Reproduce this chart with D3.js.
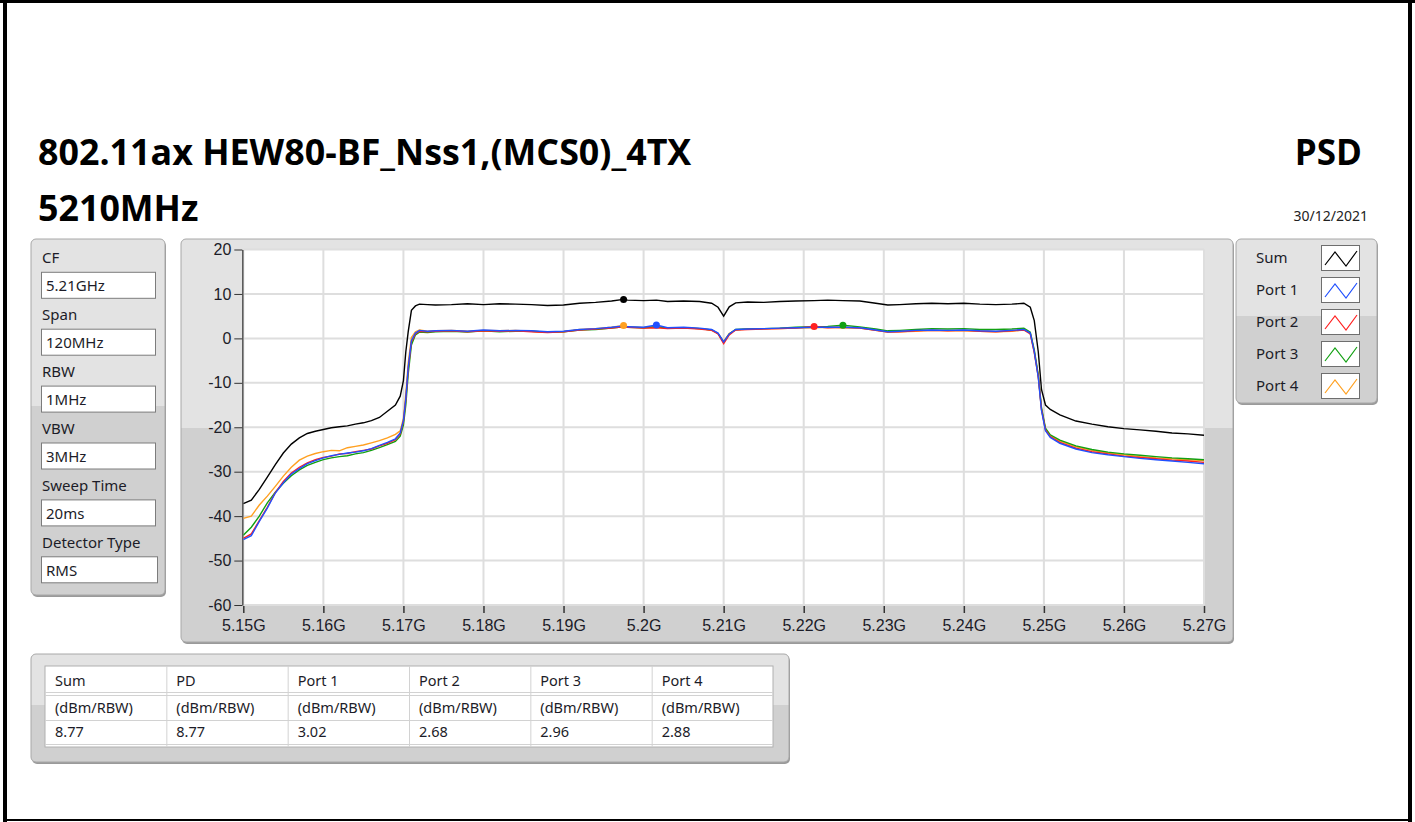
<!DOCTYPE html>
<html>
<head>
<meta charset="utf-8">
<script src="https://cdn.jsdelivr.net/npm/d3@7"></script>
<style>
body { margin: 0; background: #fff; }
svg { display: block; font-family: "Noto Sans", sans-serif; }
</style>
</head>
<body>
<div id="chart"></div>
<script>
// frequency points (MHz) shared by all traces
var freqMHz = [5150, 5151, 5152, 5153, 5154, 5155, 5156, 5157, 5158, 5159,
  5160, 5161, 5162, 5163, 5164, 5165, 5166, 5167, 5168, 5169,
  5169.6, 5170, 5170.3, 5170.6, 5171, 5171.5, 5172, 5173, 5174, 5176,
  5178, 5180, 5182, 5184, 5186, 5188, 5190, 5192, 5194, 5196,
  5197.5, 5198, 5200, 5201.6, 5203, 5205, 5207, 5208.5, 5209.3, 5210,
  5210.7, 5211.5, 5213, 5215, 5217, 5219, 5221.3, 5223, 5224.9, 5227,
  5229, 5230.5, 5232, 5234, 5236, 5238, 5240, 5242, 5244, 5246,
  5247.5, 5248.3, 5248.8, 5249.3, 5249.7, 5250.2, 5250.8, 5252, 5254, 5256,
  5258, 5260, 5262, 5264, 5266, 5268, 5270];

// PSD in dBm/RBW
var sumPSD = [-37.2, -36.4, -34.0, -31.2, -28.4, -25.8, -23.8, -22.4, -21.4, -20.9,
  -20.5, -20.1, -19.9, -19.7, -19.3, -19.0, -18.5, -17.8, -16.4, -15.0,
  -13.0, -9.5, -3.0, 1.5, 6.3, 7.3, 7.7, 7.6, 7.5, 7.6,
  7.8, 7.6, 7.8, 7.7, 7.6, 7.4, 7.5, 7.9, 8.1, 8.4,
  8.77, 8.6, 8.5, 8.6, 8.3, 8.4, 8.3, 7.9, 7.0, 5.0,
  7.1, 8.0, 8.2, 8.1, 8.3, 8.4, 8.5, 8.6, 8.5, 8.4,
  7.9, 7.5, 7.6, 7.8, 7.9, 7.8, 7.9, 7.7, 7.6, 7.7,
  7.9, 7.0, 4.0, -3.0, -11.5, -15.0, -16.0, -17.2, -18.6, -19.3,
  -19.9, -20.3, -20.6, -20.9, -21.3, -21.5, -21.8];

var port1PSD = [-45.3, -44.4, -41.2, -38.2, -34.8, -32.5, -30.5, -29.3, -28.2, -27.5,
  -26.9, -26.4, -26.1, -25.8, -25.6, -25.3, -24.8, -24.1, -23.4, -22.6,
  -21.3, -18.5, -13.5, -6.5, -0.5, 1.2, 1.8, 1.6, 1.7, 1.8,
  1.6, 1.9, 1.7, 1.8, 1.7, 1.5, 1.6, 2.0, 2.2, 2.5,
  2.8, 2.6, 2.5, 3.02, 2.4, 2.5, 2.3, 2.0, 1.2, -0.8,
  1.0, 2.0, 2.1, 2.2, 2.3, 2.4, 2.5, 2.5, 2.5, 2.4,
  1.9, 1.5, 1.6, 1.8, 1.9, 1.8, 1.9, 1.7, 1.6, 1.8,
  2.0, 1.2, -3.0, -8.8, -16.2, -20.8, -22.3, -23.6, -24.9, -25.7,
  -26.2, -26.6, -27.0, -27.3, -27.6, -27.9, -28.2];

var port2PSD = [-45.0, -44.0, -41.0, -38.0, -34.7, -32.2, -30.3, -29.0, -28.0, -27.3,
  -26.8, -26.5, -26.0, -25.9, -25.5, -25.2, -24.9, -24.2, -23.6, -22.8,
  -21.5, -18.7, -13.8, -6.9, -0.8, 1.0, 1.6, 1.5, 1.6, 1.7,
  1.5, 1.7, 1.6, 1.7, 1.5, 1.3, 1.5, 1.9, 2.1, 2.3,
  2.6, 2.5, 2.3, 2.4, 2.2, 2.3, 2.1, 1.8, 1.0, -1.2,
  0.8, 1.9, 2.0, 2.1, 2.2, 2.3, 2.68, 2.4, 2.5, 2.3,
  1.8, 1.4, 1.5, 1.7, 1.8, 1.7, 1.8, 1.6, 1.5, 1.7,
  1.9, 1.0, -3.2, -8.6, -16.0, -20.6, -22.1, -23.4, -24.7, -25.5,
  -26.0, -26.5, -26.8, -27.1, -27.4, -27.6, -27.9];

var port3PSD = [-44.3, -42.5, -40.0, -37.0, -34.6, -32.6, -30.9, -29.6, -28.6, -27.9,
  -27.3, -26.9, -26.6, -26.4, -26.0, -25.7, -25.2, -24.6, -23.9, -23.2,
  -22.0, -19.5, -15.0, -8.0, -1.5, 0.8, 1.4, 1.3, 1.5, 1.6,
  1.4, 1.7, 1.5, 1.6, 1.6, 1.4, 1.5, 1.9, 2.0, 2.3,
  2.6, 2.5, 2.4, 2.6, 2.3, 2.4, 2.2, 1.9, 1.1, -0.9,
  1.0, 2.0, 2.1, 2.2, 2.3, 2.5, 2.6, 2.7, 2.96, 2.6,
  2.1, 1.7, 1.8, 2.0, 2.2, 2.1, 2.2, 2.0, 2.0, 2.1,
  2.3, 1.4, -2.6, -8.2, -15.6, -20.2, -21.7, -22.9, -24.2, -25.0,
  -25.6, -26.0, -26.3, -26.6, -26.9, -27.1, -27.3];

var port4PSD = [-40.5, -40.0, -37.5, -35.5, -33.3, -31.0, -29.0, -27.4, -26.5, -25.9,
  -25.5, -25.2, -25.3, -24.6, -24.3, -24.0, -23.5, -23.0, -22.4, -21.6,
  -20.8, -18.0, -12.5, -5.5, 0.2, 1.5, 1.9, 1.6, 1.7, 1.8,
  1.6, 1.8, 1.7, 1.8, 1.6, 1.4, 1.5, 2.0, 2.2, 2.5,
  2.88, 2.6, 2.4, 2.7, 2.3, 2.4, 2.2, 1.9, 1.1, -0.7,
  1.1, 1.9, 2.1, 2.2, 2.2, 2.3, 2.4, 2.5, 2.4, 2.3,
  1.8, 1.4, 1.5, 1.6, 1.8, 1.7, 1.7, 1.6, 1.5, 1.6,
  1.9, 1.1, -3.0, -8.5, -15.9, -20.4, -21.9, -23.1, -24.4, -25.2,
  -25.8, -26.2, -26.6, -26.9, -27.1, -27.3, -27.5];

var seriesNames = ["Sum", "Port 1", "Port 2", "Port 3", "Port 4"];
var seriesColors = ["#000000", "#2050ff", "#ff2020", "#12a012", "#ffa020"];
var seriesValues = [sumPSD, port1PSD, port2PSD, port3PSD, port4PSD];

var xTicks = [5150, 5160, 5170, 5180, 5190, 5200, 5210, 5220, 5230, 5240, 5250, 5260, 5270];
var yTicks = [20, 10, 0, -10, -20, -30, -40, -50, -60];

var setupLabels = ["CF", "Span", "RBW", "VBW", "Sweep Time", "Detector Type"];
var setupValues = ["5.21GHz", "120MHz", "1MHz", "3MHz", "20ms", "RMS"];

var tableHeaders = ["Sum", "PD", "Port 1", "Port 2", "Port 3", "Port 4"];
var tableUnits = ["(dBm/RBW)", "(dBm/RBW)", "(dBm/RBW)", "(dBm/RBW)", "(dBm/RBW)", "(dBm/RBW)"];
var tableValues = ["8.77", "8.77", "3.02", "2.68", "2.96", "2.88"];

var titleText = "802.11ax HEW80-BF_Nss1,(MCS0)_4TX";
var subTitle = "5210MHz";
var rightTitle = "PSD";
var dateText = "30/12/2021";

var W = 1415, H = 822;
var svg = d3.select("#chart").append("svg")
    .attr("width", W)
    .attr("height", H);

var defs = svg.append("defs");
var grad = defs.append("linearGradient")
    .attr("id", "panelFill")
    .attr("x1", 0).attr("y1", 0).attr("x2", 0).attr("y2", 1);
grad.append("stop").attr("offset", 0).attr("stop-color", "#e3e3e3");
grad.append("stop").attr("offset", 0.47).attr("stop-color", "#e3e3e3");
grad.append("stop").attr("offset", 0.47).attr("stop-color", "#d0d0d0");
grad.append("stop").attr("offset", 1).attr("stop-color", "#d0d0d0");

// page border
svg.append("rect").attr("x", 0).attr("y", 0).attr("width", W).attr("height", 3).attr("fill", "#000");
svg.append("rect").attr("x", 3).attr("y", 0).attr("width", 4).attr("height", 822).attr("fill", "#000");
svg.append("rect").attr("x", 1408).attr("y", 0).attr("width", 4).attr("height", 822).attr("fill", "#000");
svg.append("rect").attr("x", 3).attr("y", 819).attr("width", 1409).attr("height", 2).attr("fill", "#000");

// titles
svg.append("text").attr("x", 38).attr("y", 165)
    .style("font-family", "'Open Sans', sans-serif").style("font-weight", 700).style("font-size", "35.8px")
    .attr("fill", "#000").text(titleText);
svg.append("text").attr("x", 38).attr("y", 221)
    .style("font-family", "'Open Sans', sans-serif").style("font-weight", 700).style("font-size", "35.8px")
    .attr("fill", "#000").text(subTitle);
svg.append("text").attr("x", 1362).attr("y", 165).attr("text-anchor", "end")
    .style("font-family", "'Open Sans', sans-serif").style("font-weight", 700).style("font-size", "35px")
    .attr("fill", "#000").text(rightTitle);
svg.append("text").attr("x", 1368).attr("y", 221).attr("text-anchor", "end")
    .style("font-size", "14px").attr("fill", "#222").text(dateText);

function panel(x, y, w, h) {
    svg.append("rect").attr("x", x + 1).attr("y", y + 2).attr("width", w).attr("height", h)
        .attr("rx", 5).attr("fill", "#9a9a9a");
    svg.append("rect").attr("x", x).attr("y", y).attr("width", w).attr("height", h)
        .attr("rx", 5).attr("fill", "url(#panelFill)").attr("stroke", "#a8a8a8");
}

// setup panel
panel(31, 239, 134, 356);
var setup = svg.append("g");
setupLabels.forEach(function (lab, i) {
    var top = 272.3 + i * 56.9;
    setup.append("text").attr("x", 42).attr("y", top - 9)
        .style("font-size", "15px").attr("fill", "#1c1c28").text(lab);
    var bw = i == setupLabels.length - 1 ? 116 : 114;
    setup.append("rect").attr("x", 41.5).attr("y", top).attr("width", bw).attr("height", 26)
        .attr("fill", "#fff").attr("stroke", "#7c7c7c");
    setup.append("text").attr("x", 46).attr("y", top + 19)
        .style("font-size", "15px").attr("fill", "#1c1c28").text(setupValues[i]);
});

// plot panel
panel(181, 239, 1052, 403);

var x = d3.scaleLinear().domain([5150, 5270]).range([243.3, 1204]);
var y = d3.scaleLinear().domain([-60, 20]).range([605, 249.5]);

svg.append("rect").attr("x", x(5150)).attr("y", y(20))
    .attr("width", x(5270) - x(5150)).attr("height", y(-60) - y(20))
    .attr("fill", "#fff");

// grid
var grid = svg.append("g").attr("stroke", "#dedede").attr("stroke-width", 2);
grid.selectAll(".vg").data(xTicks).enter().append("line")
    .attr("x1", function (d) { return x(d); }).attr("x2", function (d) { return x(d); })
    .attr("y1", y(20)).attr("y2", y(-60));
grid.selectAll(".hg").data(yTicks).enter().append("line")
    .attr("x1", x(5150)).attr("x2", x(5270))
    .attr("y1", function (d) { return y(d); }).attr("y2", function (d) { return y(d); });

// axes
var yAxis = svg.append("g")
    .attr("transform", "translate(" + (x(5150) - 1) + ",0)")
    .call(d3.axisLeft(y).tickValues(yTicks).tickSize(8).tickSizeOuter(0).tickPadding(3)
        .tickFormat(function (d) { return String(d); }));
yAxis.select(".domain").attr("stroke", "#555").attr("stroke-width", 1.5);
yAxis.selectAll(".tick line").attr("stroke", "#333");
yAxis.selectAll(".tick text").style("font-size", "16px").attr("fill", "#1c1c28");

var xAxis = svg.append("g")
    .attr("transform", "translate(0," + (y(-60) + 1) + ")")
    .call(d3.axisBottom(x).tickValues(xTicks).tickSize(7).tickSizeOuter(0).tickPadding(7)
        .tickFormat(function (d) { return +(d / 1000).toFixed(2) + "G"; }));
xAxis.select(".domain").remove();
xAxis.selectAll(".tick line").attr("stroke", "#333").attr("stroke-width", 1.5);
xAxis.selectAll(".tick text").style("font-size", "16px").attr("fill", "#1c1c28");

// traces
defs.append("clipPath").attr("id", "plotClip").append("rect")
    .attr("x", x(5150)).attr("y", y(20))
    .attr("width", x(5270) - x(5150)).attr("height", y(-60) - y(20));

var line = d3.line()
    .x(function (d) { return x(d[0]); })
    .y(function (d) { return y(d[1]); });

var drawOrder = [4, 3, 2, 1, 0];
var traces = svg.append("g").attr("clip-path", "url(#plotClip)");
drawOrder.forEach(function (k) {
    traces.append("path")
        .datum(d3.zip(freqMHz, seriesValues[k]))
        .attr("fill", "none")
        .attr("stroke", seriesColors[k])
        .attr("stroke-width", 1.4)
        .attr("d", line);
});

// peak markers
drawOrder.forEach(function (k) {
    var i = d3.maxIndex(seriesValues[k]);
    svg.append("circle")
        .attr("cx", x(freqMHz[i]))
        .attr("cy", y(seriesValues[k][i]))
        .attr("r", 3.5)
        .attr("fill", seriesColors[k]);
});

// legend panel
panel(1236, 239, 141, 164);
var legend = svg.append("g");
seriesNames.forEach(function (name, i) {
    var ry = 245 + i * 32;
    legend.append("text").attr("x", 1256).attr("y", ry + 18)
        .style("font-size", "15px").attr("fill", "#1c1c28").text(name);
    legend.append("rect").attr("x", 1321.5).attr("y", ry + 0.5).attr("width", 38).attr("height", 25)
        .attr("fill", "#fff").attr("stroke", "#6e6e6e");
    legend.append("polyline")
        .attr("points", [[1325, ry + 20], [1335, ry + 7], [1346, ry + 21], [1357, ry + 6]].join(" "))
        .attr("fill", "none").attr("stroke", seriesColors[i]).attr("stroke-width", 1.2);
});

// result table
panel(31, 654, 758, 108);
var tbl = svg.append("g");
var col = d3.scaleBand().domain(tableHeaders).range([45, 773]);
tbl.append("rect").attr("x", 45).attr("y", 666).attr("width", 728).attr("height", 81)
    .attr("fill", "#fff").attr("stroke", "#b0b0b0");
var rowLines = [692, 695, 720, 744];
tbl.selectAll(".rl").data(rowLines).enter().append("line")
    .attr("x1", 45).attr("x2", 773)
    .attr("y1", function (d) { return d + 0.5; }).attr("y2", function (d) { return d + 0.5; })
    .attr("stroke", "#d2d2d2");
tbl.selectAll(".cl").data(tableHeaders.slice(1)).enter().append("line")
    .attr("x1", function (d) { return col(d) + 0.5; }).attr("x2", function (d) { return col(d) + 0.5; })
    .attr("y1", 666).attr("y2", 747)
    .attr("stroke", "#d2d2d2");
var rows = [tableHeaders, tableUnits, tableValues];
var rowBase = [686, 713, 737];
rows.forEach(function (r, ri) {
    tbl.selectAll(".r" + ri).data(r).enter().append("text")
        .attr("x", function (d, i) { return col(tableHeaders[i]) + 10; })
        .attr("y", rowBase[ri])
        .style("font-size", "14.5px").attr("fill", "#1c1c28")
        .text(function (d) { return d; });
});
</script>
</body>
</html>
